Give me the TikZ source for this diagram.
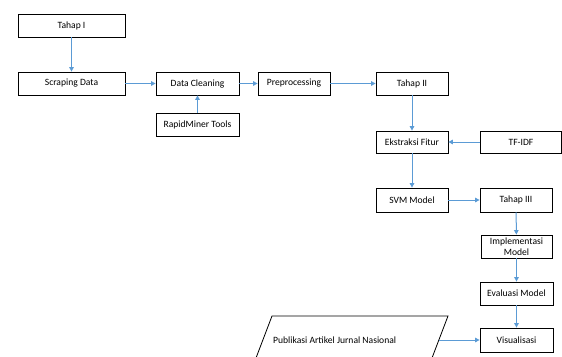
\documentclass[tikz,border=0pt]{standalone}
\usepackage{fontspec}
\setmainfont{Carlito}
\usetikzlibrary{arrows.meta}
\definecolor{arrowblue}{HTML}{5B9BD5}
\tikzset{
  box/.style={draw=black, line width=0.8pt, fill=white, minimum height=23pt, inner sep=1pt, font=\fontsize{9.6}{10.5}\selectfont, align=center},
  flow/.style={draw=arrowblue, line width=1pt, -{Triangle[length=4.5pt,width=4.5pt]}}
}
\begin{document}
\begin{tikzpicture}[x=1pt,y=-1pt]
\useasboundingbox (0,0) rectangle (562,356);
\node[box, minimum width=107pt] (t1) at (71.5,25.5) {Tahap I};
\node[box, minimum width=107pt] (sd) at (71.5,83.5) {Scraping Data};
\node[box, minimum width=83pt] (dc) at (197.5,83.5) {Data Cleaning};
\node[box, minimum width=83pt] (rm) at (197.5,124.5) {RapidMiner Tools};
\node[box, minimum width=72pt] (pp) at (294,83.5) {Preprocessing};
\node[box, minimum width=72pt] (t2) at (412,83.5) {Tahap II};
\node[box, minimum width=72pt, minimum height=22pt] (ef) at (412,142) {Ekstraksi Fitur};
\node[box, minimum width=81pt, minimum height=22pt] (tf) at (521,142) {TF-IDF};
\node[box, minimum width=72pt, minimum height=24pt] (svm) at (412,200) {SVM Model};
\node[box, minimum width=72pt, minimum height=24pt] (t3) at (516,200) {Tahap III};
\node[box, text width=71pt, minimum height=23pt, inner sep=0pt] (im) at (516.5,246.5) {Implementasi\\Model};
\node[box, minimum width=73pt] (ev) at (516.5,293.5) {Evaluasi Model};
\node[box, minimum width=73pt, minimum height=24pt] (vi) at (516.5,340) {Visualisasi};
\draw[line width=0.8pt] (272,316) -- (448,316) -- (432,358) -- (256,358) -- cycle;
\node[font=\fontsize{9.6}{10.5}\selectfont, anchor=west, inner sep=0pt] (pub) at (273,340) {Publikasi Artikel Jurnal Nasional};
\coordinate (pubR) at (439,340);
\draw[flow] (t1) -- (sd);
\draw[flow] (sd) -- (dc);
\draw[flow] (dc) -- (pp);
\draw[flow] (rm) -- (dc);
\draw[flow] (pp) -- (t2);
\draw[flow] (t2) -- (ef);
\draw[flow] (tf) -- (ef);
\draw[flow] (ef) -- (svm);
\draw[flow] (svm) -- (t3);
\draw[flow] (t3) -- (im);
\draw[flow] (im) -- (ev);
\draw[flow] (ev) -- (vi);
\draw[flow] (pubR) -- (vi);
\end{tikzpicture}
\end{document}
